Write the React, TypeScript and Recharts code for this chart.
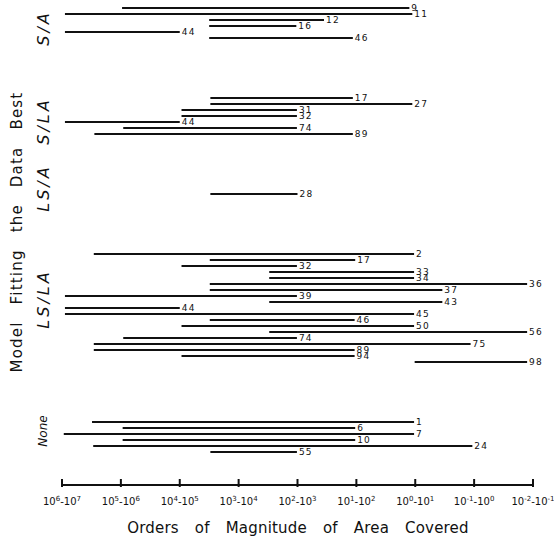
import React from 'react';
import { BarChart, Bar, XAxis, YAxis, LabelList } from 'recharts';

// x is in tick units: 0 = 10^6-10^7 ... 8 = 10^-2-10^-1
const groupNames = ['S/A', 'S/LA', 'LS/A', 'LS/LA', 'None'];

const saStudies = ['9', '11', '12', '16', '44', '46'];
const saFrom = [1.02, 0.05, 2.5, 2.5, 0.05, 2.5];
const saTo = [5.9, 5.95, 4.45, 3.98, 2.0, 4.94];

const slaStudies = ['17', '27', '31', '32', '44', '74', '89'];
const slaFrom = [2.52, 2.52, 2.03, 2.03, 0.05, 1.04, 0.55];
const slaTo = [4.94, 5.95, 3.99, 3.99, 2.0, 3.99, 4.94];

const lsaStudies = ['28'];
const lsaFrom = [2.52];
const lsaTo = [4.0];

const lslaStudies = ['2', '17', '32', '33', '34', '36', '37', '39', '43', '44', '45', '46', '50', '56', '74', '75', '89', '94', '98'];
const lslaFrom = [0.54, 2.51, 2.03, 3.52, 3.52, 2.51, 2.51, 0.05, 3.52, 0.05, 0.05, 2.51, 2.03, 3.52, 1.04, 0.54, 0.54, 2.03, 5.99];
const lslaTo = [5.98, 4.98, 3.99, 5.98, 5.98, 7.9, 6.46, 3.99, 6.46, 2.0, 5.98, 4.97, 5.98, 7.9, 3.99, 6.94, 4.97, 4.97, 7.9];

const noneStudies = ['1', '6', '7', '10', '24', '55'];
const noneFrom = [0.51, 1.03, 0.03, 1.03, 0.53, 2.52];
const noneTo = [5.98, 4.98, 5.98, 4.98, 6.97, 3.99];

const tickExponents = [
  ['6', '7'], ['5', '6'], ['4', '5'], ['3', '4'], ['2', '3'],
  ['1', '2'], ['0', '1'], ['-1', '0'], ['-2', '-1'],
];

const ROW = 6;
const GAP_ROWS = 9;
const TAIL_ROWS = 5;
const TOP = 5;
const FONT = 'DejaVu Sans, sans-serif';
const INK = '#111';

// nudge of each group label from the middle of its rows
const labelShift = [5, 5, -6, -9, -6];

type Row = { key: string; study?: string; range: [number, number] | null };

const groups = [
  { name: groupNames[0], studies: saStudies, from: saFrom, to: saTo },
  { name: groupNames[1], studies: slaStudies, from: slaFrom, to: slaTo },
  { name: groupNames[2], studies: lsaStudies, from: lsaFrom, to: lsaTo },
  { name: groupNames[3], studies: lslaStudies, from: lslaFrom, to: lslaTo },
  { name: groupNames[4], studies: noneStudies, from: noneFrom, to: noneTo },
];

const rows: Row[] = [];
const groupStart: Record<string, { name: string; n: number; gi: number }> = {};
groups.forEach((g, gi) => {
  if (gi > 0) {
    for (let k = 0; k < GAP_ROWS; k++) rows.push({ key: `r${rows.length}`, range: null });
  }
  groupStart[`r${rows.length}`] = { name: g.name, n: g.studies.length, gi };
  g.studies.forEach((s, i) => {
    rows.push({ key: `r${rows.length}`, study: s, range: [g.from[i], g.to[i]] });
  });
});
for (let k = 0; k < TAIL_ROWS; k++) rows.push({ key: `r${rows.length}`, range: null });

const GroupTick = (props: any) => {
  const { y, payload } = props;
  const g = groupStart[payload.value];
  if (!g) return null;
  const cx = 43;
  const cy = y + ((g.n - 1) / 2) * ROW + labelShift[g.gi];
  const small = g.name === 'None';
  return (
    <text
      x={cx}
      y={cy}
      transform={`rotate(-90 ${cx} ${cy})`}
      textAnchor="middle"
      dominantBaseline="central"
      fontStyle="italic"
      fontFamily={FONT}
      fontSize={small ? 12 : 16}
      letterSpacing={small ? 0 : 3}
      fill={INK}
    >
      {g.name}
    </text>
  );
};

const XTick = (props: any) => {
  const { x, y, payload } = props;
  const [a, b] = tickExponents[payload.value];
  return (
    <g>
      <line x1={x} x2={x} y1={y} y2={y - 8} stroke={INK} strokeWidth={2} />
      <text x={x} y={y + 18} textAnchor="middle" fontSize={10} fontFamily={FONT} fill={INK}>
        10<tspan dy={-4} fontSize={7}>{a}</tspan>
        <tspan dy={4}>-10</tspan>
        <tspan dy={-4} fontSize={7}>{b}</tspan>
      </text>
    </g>
  );
};

const StudyLabel = (props: any) => {
  const { x, y, width, height, value } = props;
  if (value == null || value === '') return null;
  return (
    <text
      x={x + width + 2}
      y={y + height / 2}
      dominantBaseline="central"
      fontSize={9}
      letterSpacing={1.2}
      fontFamily={FONT}
      fill={INK}
    >
      {value}
    </text>
  );
};

export default function App() {
  const plotH = rows.length * ROW;
  return (
    <div style={{ position: 'absolute', left: 0, top: 0, width: 554, height: 540, background: '#fff', overflow: 'hidden' }}>
      <BarChart
        width={554}
        height={TOP + plotH + 25}
        data={rows}
        layout="vertical"
        margin={{ top: TOP, right: 21, left: 0, bottom: 0 }}
        barCategoryGap={0}
      >
        <XAxis
          type="number"
          domain={[0, 8]}
          ticks={tickExponents.map((_, i) => i)}
          interval={0}
          tickLine={false}
          tickSize={0}
          height={25}
          axisLine={{ stroke: INK, strokeWidth: 2 }}
          tick={<XTick />}
          allowDataOverflow
        />
        <YAxis
          type="category"
          dataKey="key"
          width={62}
          axisLine={false}
          tickLine={false}
          interval={0}
          tick={<GroupTick />}
        />
        <Bar dataKey="range" fill={INK} barSize={2} isAnimationActive={false}>
          <LabelList dataKey="study" content={<StudyLabel />} />
        </Bar>
      </BarChart>
      <svg width={554} height={540} style={{ position: 'absolute', left: 0, top: 0, pointerEvents: 'none' }}>
        <text
          x={298}
          y={533}
          textAnchor="middle"
          fontSize={15}
          fontFamily={FONT}
          letterSpacing={0.2}
          wordSpacing={11}
          fill={INK}
        >
          Orders of Magnitude of Area Covered
        </text>
        <text
          x={17}
          y={232}
          transform="rotate(-90 17 232)"
          textAnchor="middle"
          dominantBaseline="central"
          fontSize={15}
          fontFamily={FONT}
          letterSpacing={1.2}
          wordSpacing={11}
          fill={INK}
        >
          Model Fitting the Data Best
        </text>
      </svg>
    </div>
  );
}
